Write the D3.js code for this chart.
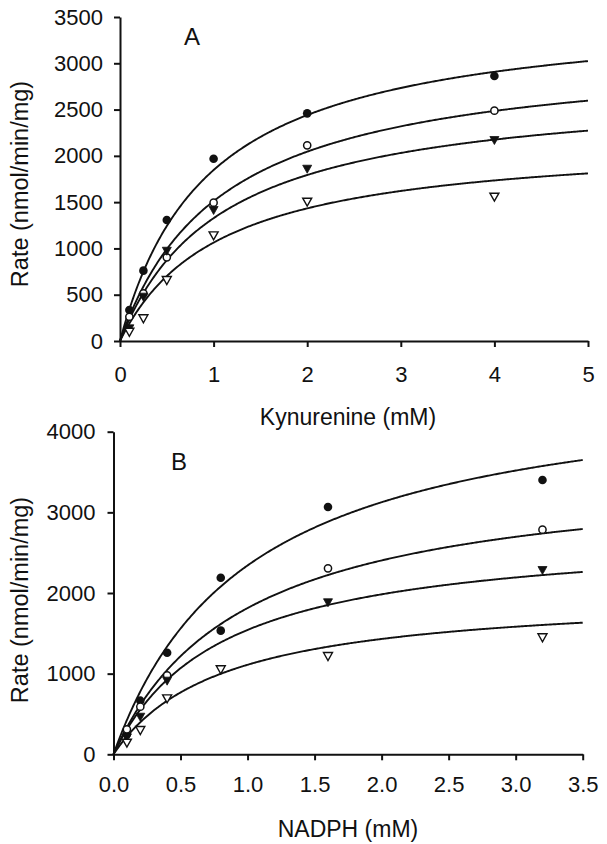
<!DOCTYPE html>
<html><head><meta charset="utf-8">
<script src="https://cdn.jsdelivr.net/npm/d3@7"></script>
<style>body{margin:0;background:#fff}svg{display:block}text{font-family:"Liberation Sans",Arial,sans-serif;fill:#111}</style>
</head><body>
<script>
// Panel A: Kynurenine (mM) vs rate
const aConc = [0.1, 0.25, 0.5, 1, 2, 4];
const aFilledCircle = [335, 760, 1307, 1969, 2459, 2862];
const aOpenCircle   = [262, 515, 904, 1494, 2114, 2488];
const aFilledTri    = [137, 479, 975, 1415, 1861, 2171];
const aOpenTri      = [100, 245, 659, 1141, 1505, 1559];
const aVmax = [3597, 3165, 2765, 2197];
const aKm   = [0.948, 1.095, 1.084, 1.067];
const aXTicks = [0, 1, 2, 3, 4, 5];
const aYTicks = [0, 500, 1000, 1500, 2000, 2500, 3000, 3500];

// Panel B: NADPH (mM) vs rate
const bConcFilledCircle = [0.1, 0.2, 0.4, 0.8, 0.8, 1.6, 3.2];
const bFilledCircle     = [250, 665, 1260, 2190, 1533, 3066, 3401];
const bConc = [0.1, 0.2, 0.4, 1.6, 3.2];
const bOpenCircle = [310, 590, 980, 2306, 2785];
const bFilledTri  = [210, 466, 913, 1885, 2285];
const bConcOpenTri = [0.1, 0.2, 0.4, 0.8, 1.6, 3.2];
const bOpenTri    = [144, 301, 694, 1054, 1219, 1451];
const bVmax = [4699, 3565, 2779, 2010];
const bKm   = [1.007, 0.966, 0.802, 0.811];
const bXTicks = [0, 0.5, 1.0, 1.5, 2.0, 2.5, 3.0, 3.5];
const bYTicks = [0, 1000, 2000, 3000, 4000];

const W = 607, H = 844;
const svg = d3.select("body").append("svg").attr("width", W).attr("height", H);

function drawPanel(cfg) {
  const g = svg.append("g");
  const x = d3.scaleLinear().domain(cfg.xDomain).range(cfg.xRange);
  const y = d3.scaleLinear().domain(cfg.yDomain).range(cfg.yRange);

  const xAxis = g.append("g").attr("transform", `translate(0,${cfg.yRange[0]})`)
    .call(d3.axisBottom(x).tickValues(cfg.xTicks).tickFormat(cfg.xFmt).tickSize(6).tickPadding(cfg.xPad).tickSizeOuter(0));
  const yAxis = g.append("g").attr("transform", `translate(${cfg.xRange[0]},0)`)
    .call(d3.axisLeft(y).tickValues(cfg.yTicks).tickFormat(d3.format("d")).tickSize(6).tickPadding(cfg.yPad).tickSizeOuter(0));
  [xAxis, yAxis].forEach(a => {
    a.select(".domain").attr("stroke", "#111").attr("stroke-width", 2);
    a.selectAll(".tick line").attr("stroke", "#111").attr("stroke-width", 2);
    a.selectAll(".tick text").style("font-size", "22px").attr("fill", "#111")
      .style("font-family", '"Liberation Sans",Arial,sans-serif');
  });

  // fitted Michaelis-Menten curves
  const line = d3.line().x(d => x(d[0])).y(d => y(d[1]));
  const xs = d3.range(0, 401).map(i => cfg.xDomain[1] * i / 400);
  cfg.vmax.forEach((V, i) => {
    const K = cfg.km[i];
    g.append("path").datum(xs.map(s => [s, V * s / (K + s)]))
      .attr("d", line).attr("fill", "none").attr("stroke", "#111").attr("stroke-width", 1.9);
  });

  // markers
  const circ = (xsArr, ysArr, filled) => g.append("g").selectAll("circle")
    .data(xsArr.map((c, i) => [c, ysArr[i]])).join("circle")
    .attr("cx", d => x(d[0])).attr("cy", d => y(d[1])).attr("r", filled ? 4.3 : 3.6)
    .attr("fill", filled ? "#111" : "#fff").attr("stroke", "#111").attr("stroke-width", filled ? 0 : 1.5);
  const tri = (xsArr, ysArr, filled) => g.append("g").selectAll("path")
    .data(xsArr.map((c, i) => [c, ysArr[i]])).join("path")
    .attr("d", "M-4.5,-3.5L4.5,-3.5L0,4.5Z")
    .attr("transform", d => `translate(${x(d[0])},${y(d[1])})`)
    .attr("fill", filled ? "#111" : "#fff").attr("stroke", "#111").attr("stroke-width", filled ? 0.8 : 1.4);
  cfg.points(circ, tri);

  g.append("text").attr("x", cfg.label[0]).attr("y", cfg.label[1]).attr("text-anchor", "middle")
    .style("font-size", "24px").text(cfg.letter);
  g.append("text").attr("x", cfg.xTitle[0]).attr("y", cfg.xTitle[1]).attr("text-anchor", "middle")
    .style("font-size", "23px").text(cfg.xTitleText);
  g.append("text").attr("transform", `translate(${cfg.yTitle[0]},${cfg.yTitle[1]}) rotate(-90)`)
    .attr("text-anchor", "middle").style("font-size", "23.5px").text("Rate (nmol/min/mg)");
}

drawPanel({
  xDomain: [0, 5], xRange: [120, 588], yDomain: [0, 3500], yRange: [341, 17],
  xTicks: aXTicks, yTicks: aYTicks, xFmt: d3.format("d"), xPad: 19, yPad: 11,
  vmax: aVmax, km: aKm,
  points: (circ, tri) => {
    circ(aConc, aFilledCircle, true);
    circ(aConc, aOpenCircle, false);
    tri(aConc, aFilledTri, true);
    tri(aConc, aOpenTri, false);
  },
  letter: "A", label: [192, 45], xTitle: [348, 425], xTitleText: "Kynurenine (mM)", yTitle: [28, 184]
});

drawPanel({
  xDomain: [0, 3.5], xRange: [113.5, 582.7], yDomain: [0, 4000], yRange: [754.3, 431.7],
  xTicks: bXTicks, yTicks: bYTicks, xFmt: d3.format(".1f"), xPad: 16, yPad: 12,
  vmax: bVmax, km: bKm,
  points: (circ, tri) => {
    circ(bConcFilledCircle, bFilledCircle, true);
    circ(bConc, bOpenCircle, false);
    tri(bConc, bFilledTri, true);
    tri(bConcOpenTri, bOpenTri, false);
  },
  letter: "B", label: [179, 470], xTitle: [348, 837], xTitleText: "NADPH (mM)", yTitle: [28, 600]
});
</script>
</body></html>
